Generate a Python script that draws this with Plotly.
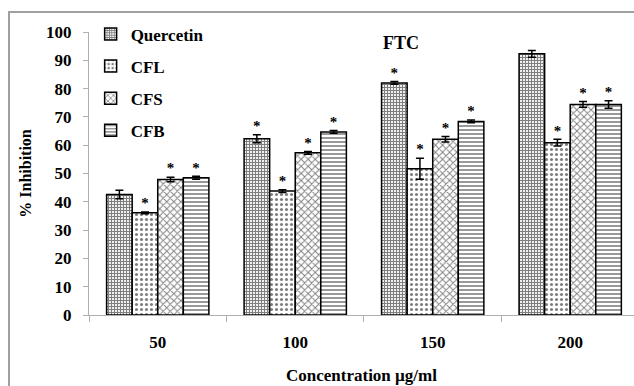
import plotly.graph_objects as go

categories = ["50", "100", "150", "200"]
series_names = ["Quercetin", "CFL", "CFS", "CFB"]
quercetin = [42.6, 62.3, 82.0, 92.3]
cfl = [36.1, 43.8, 51.7, 60.9]
cfs = [47.9, 57.3, 62.1, 74.4]
cfb = [48.5, 64.7, 68.4, 74.4]
quercetin_err = [1.5, 1.4, 0.5, 1.2]
cfl_err = [0.3, 0.5, 3.7, 1.2]
cfs_err = [0.8, 0.5, 1.0, 1.0]
cfb_err = [0.5, 0.5, 0.5, 1.3]
quercetin_sig = ["", "*", "*", ""]
cfl_sig = ["*", "*", "*", "*"]
cfs_sig = ["*", "*", "*", "*"]
cfb_sig = ["*", "*", "*", "*"]

values = [quercetin, cfl, cfs, cfb]
errors = [quercetin_err, cfl_err, cfs_err, cfb_err]
sigs = [quercetin_sig, cfl_sig, cfs_sig, cfb_sig]
patterns = [
    dict(shape="+", size=3, solidity=0.65, fgcolor="black", bgcolor="white"),
    dict(shape=".", size=5, solidity=0.3, fgcolor="black", bgcolor="white"),
    dict(shape="x", size=5, solidity=0.35, fgcolor="black", bgcolor="white"),
    dict(shape="-", size=4, solidity=0.4, fgcolor="black", bgcolor="white"),
]

FONT = "Liberation Serif"
fig = go.Figure()
for name, v, e, p in zip(series_names, values, errors, patterns):
    fig.add_trace(go.Bar(
        x=categories, y=v, name=name, offsetgroup=name, legendgroup=name,
        marker=dict(color="white", pattern=p, line=dict(color="black", width=1.5)),
        error_y=dict(type="data", array=e, visible=True, color="black", thickness=1.5, width=4),
    ))
for name, v, e, s in zip(series_names, values, errors, sigs):
    fig.add_trace(go.Scatter(
        x=categories, y=[a + b for a, b in zip(v, e)], mode="text", text=s,
        textposition="top center", offsetgroup=name, showlegend=False,
        textfont=dict(family=FONT, size=15, color="black", weight="bold"),
        hoverinfo="skip",
    ))

axis_gray = "#b0b0b0"
fig.update_layout(
    width=634, height=386,
    margin=dict(l=89, r=0, t=32, b=71),
    paper_bgcolor="white", plot_bgcolor="white",
    barmode="group", bargap=0.256, bargroupgap=0, scattermode="group",
    font=dict(family=FONT, size=16, color="black", weight="bold"),
    showlegend=True,
    legend=dict(x=0.003, y=1.055, xanchor="left", yanchor="top",
                font=dict(family=FONT, size=17, color="black", weight="bold"),
                tracegroupgap=7, bgcolor="rgba(0,0,0,0)", itemwidth=30),
    xaxis=dict(range=[-0.5, 3.464], showline=True, linecolor=axis_gray, linewidth=1,
               ticks="outside", ticklen=6, tickcolor=axis_gray, tickson="boundaries",
               showgrid=False, ticklabelstandoff=12,
               tickfont=dict(family=FONT, size=17, weight="bold"),
               title=dict(text="Concentration µg/ml", standoff=17,
                          font=dict(family=FONT, size=17, weight="bold"))),
    yaxis=dict(range=[0, 100], dtick=10, showline=True, linecolor=axis_gray, linewidth=1,
               ticks="outside", ticklen=5, tickcolor=axis_gray, showgrid=False, zeroline=False,
               ticklabelstandoff=8,
               tickfont=dict(family=FONT, size=17, weight="bold"),
               title=dict(text="% Inhibition", standoff=10,
                          font=dict(family=FONT, size=16, weight="bold"))),
    annotations=[dict(text="FTC", x=0.5725, y=0.961, xref="paper", yref="paper",
                      xanchor="center", yanchor="middle",
                      showarrow=False, font=dict(family=FONT, size=18, weight="bold"))],
    shapes=[dict(type="rect", xref="paper", yref="paper", x0=-0.1468, x1=1.05,
                 y0=-0.3, y1=1.0707, line=dict(color="#a0a0a0", width=2), layer="below")],
)

fig.write_html("out.html", config={"displayModeBar": False},
               post_script="document.body.style.margin='0';")
